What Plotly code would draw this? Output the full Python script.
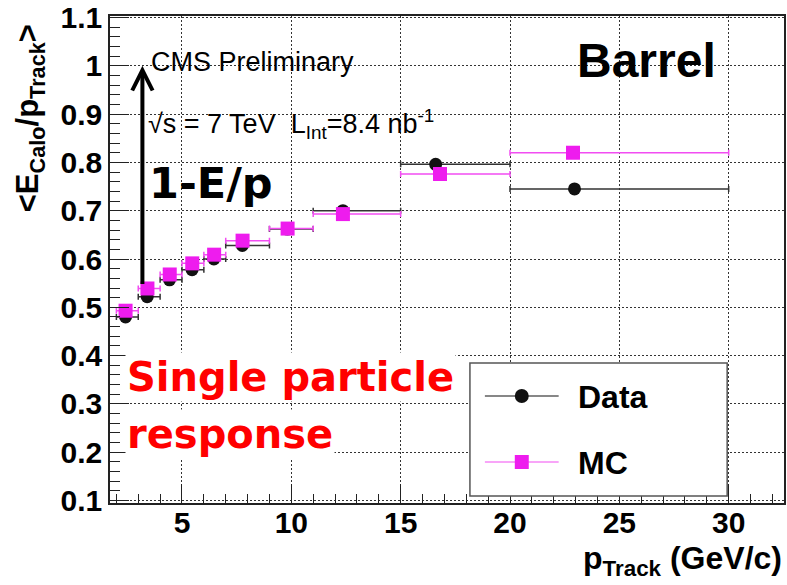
import plotly.graph_objects as go

# ---------------- data ----------------
bin_lo = [2, 3, 4, 5, 6, 7, 9, 11, 15, 20]
bin_hi = [3, 4, 5, 6, 7, 9, 11, 15, 20, 30]
data_x = [2.42, 3.41, 4.43, 5.46, 6.46, 7.76, 9.82, 12.36, 16.60, 22.95]
data_y = [0.480, 0.522, 0.557, 0.578, 0.600, 0.628, 0.662, 0.700, 0.796, 0.745]
mc_x = [2.42, 3.42, 4.44, 5.47, 6.47, 7.77, 9.83, 12.36, 16.80, 22.88]
mc_y = [0.493, 0.539, 0.568, 0.591, 0.609, 0.638, 0.663, 0.693, 0.776, 0.820]
x_ticks = [5, 10, 15, 20, 25, 30]
x_ticktext = ["5", "10", "15", "20", "25", "30"]
y_ticks = [0.1, 0.2, 0.3, 0.4, 0.5, 0.6, 0.7, 0.8, 0.9, 1.0, 1.1]
y_ticktext = ["0.1", "0.2", "0.3", "0.4", "0.5", "0.6", "0.7", "0.8", "0.9", "1", "1.1"]

W, H = 787, 585
L, R, T, B = 110, 786, 16, 503


def px(x):
    return (x - L) / (R - L)


def py(y):
    return (B - y) / (B - T)


def err_plus(xs):
    return [h - x for h, x in zip(bin_hi, xs)]


def err_minus(xs):
    return [x - l for l, x in zip(bin_lo, xs)]


BLACK = "#111111"
MAG = "#ee1cee"
MAG_L = "#f24df2"

fig = go.Figure()
fig.add_trace(go.Scatter(
    x=data_x, y=data_y, mode="markers", name="Data",
    marker=dict(symbol="circle", size=13, color=BLACK),
    error_x=dict(type="data", symmetric=False, array=err_plus(data_x),
                 arrayminus=err_minus(data_x), color="#333333", thickness=1.5, width=3),
    showlegend=False,
))
fig.add_trace(go.Scatter(
    x=mc_x, y=mc_y, mode="markers", name="MC",
    marker=dict(symbol="square", size=14, color=MAG),
    error_x=dict(type="data", symmetric=False, array=err_plus(mc_x),
                 arrayminus=err_minus(mc_x), color=MAG_L, thickness=1.5, width=3),
    showlegend=False,
))

shapes = []
# white boxes hiding grid behind text panes (between grid and traces)
for (x0, y0, x1, y1) in [(138, 37, 447, 163), (527, 27, 771, 90)]:
    shapes.append(dict(type="rect", xref="paper", yref="paper",
                       x0=px(x0), x1=px(x1), y0=py(y1), y1=py(y0),
                       fillcolor="white", line=dict(width=0), layer="between"))
# legend box
shapes.append(dict(type="rect", xref="paper", yref="paper",
                   x0=px(471), x1=px(729), y0=py(496), y1=py(363),
                   fillcolor="white", line=dict(color="#555555", width=1.5), layer="above"))
shapes.append(dict(type="line", xref="paper", yref="paper",
                   x0=px(486), x1=px(560), y0=py(396), y1=py(396),
                   line=dict(color=BLACK, width=1.2), layer="above"))
shapes.append(dict(type="circle", xref="paper", yref="paper",
                   x0=px(516), x1=px(530), y0=py(403), y1=py(389),
                   fillcolor=BLACK, line=dict(width=0), layer="above"))
shapes.append(dict(type="line", xref="paper", yref="paper",
                   x0=px(486), x1=px(560), y0=py(462), y1=py(462),
                   line=dict(color=MAG_L, width=1.2), layer="above"))
shapes.append(dict(type="rect", xref="paper", yref="paper",
                   x0=px(516), x1=px(530), y0=py(469), y1=py(455),
                   fillcolor=MAG, line=dict(width=0), layer="above"))

HEL = "Liberation Sans"
GEO = "DejaVu Sans"
ann = []


def text(x, y, s, size, xanchor="left", yanchor="middle", color="black",
         bold=False, family=HEL, bg=None, angle=0):
    d = dict(x=px(x), y=py(y), xref="paper", yref="paper", text=s, showarrow=False,
             xanchor=xanchor, yanchor=yanchor, textangle=angle,
             font=dict(family=family, size=size, color=color,
                       weight="bold" if bold else "normal"))
    if bg:
        d["bgcolor"] = bg
    ann.append(d)


text(149, 62, "CMS Preliminary", 27)
text(146, 124, "√s = 7 TeV  L<sub>Int</sub>=8.4 nb<sup>-1</sup>", 27)
text(648, 61, "Barrel", 48, xanchor="center", bold=True)
text(147, 183, "1-E/p", 43, bold=True, family=GEO)
text(125, 377, "Single particle", 40, bold=True, family=GEO, color="#ff0000", bg="white")
text(125, 434, "response", 40, bold=True, family=GEO, color="#ff0000", bg="white")
text(577, 397, "Data", 32, bold=True)
text(577, 463, "MC", 32, bold=True)
# axis titles
text(786, 538, "p<sub>Track</sub> (GeV/c)", 32, xanchor="right", yanchor="top", bold=True)
text(30, 22, "&lt;E<sub>Calo</sub>/p<sub>Track</sub>&gt;", 31, xanchor="center",
     yanchor="top", bold=True, angle=-90)

# arrow 1-E/p
ann.append(dict(x=3.19, y=1.0, ax=3.19, ay=0.545, xref="x", yref="y", axref="x", ayref="y",
                text="", showarrow=True, arrowhead=5, arrowwidth=4, arrowsize=1,
                arrowcolor="black"))

axis_common = dict(
    showline=True, linecolor="#222222", linewidth=1.5, mirror=True,
    ticks="inside", ticklen=19, tickwidth=1.2, tickcolor="#222222",
    showgrid=True, gridcolor="#333333", gridwidth=1, griddash="2px,2px",
    zeroline=False,
    tickfont=dict(family=HEL, size=30, color="black", weight="bold"),
)

fig.update_layout(
    width=W, height=H,
    margin=dict(l=L, r=W - R, t=T, b=H - B, pad=0),
    paper_bgcolor="white", plot_bgcolor="white",
    showlegend=False,
    shapes=shapes, annotations=ann,
    xaxis=dict(range=[1.708, 32.53], tickmode="array", tickvals=x_ticks, ticktext=x_ticktext,
               minor=dict(tickmode="linear", tick0=0, dtick=1, ticks="inside", ticklen=9,
                          tickwidth=1.2, tickcolor="#222222", showgrid=False),
               ticklabelstandoff=-8, **axis_common),
    yaxis=dict(range=[0.095, 1.103], tickmode="array", tickvals=y_ticks, ticktext=y_ticktext,
               minor=dict(tickmode="linear", tick0=0, dtick=0.02, ticks="inside", ticklen=10,
                          tickwidth=1.2, tickcolor="#222222", showgrid=False),
               ticklabelstandoff=0, **axis_common),
)

fig.write_html("out.html")
